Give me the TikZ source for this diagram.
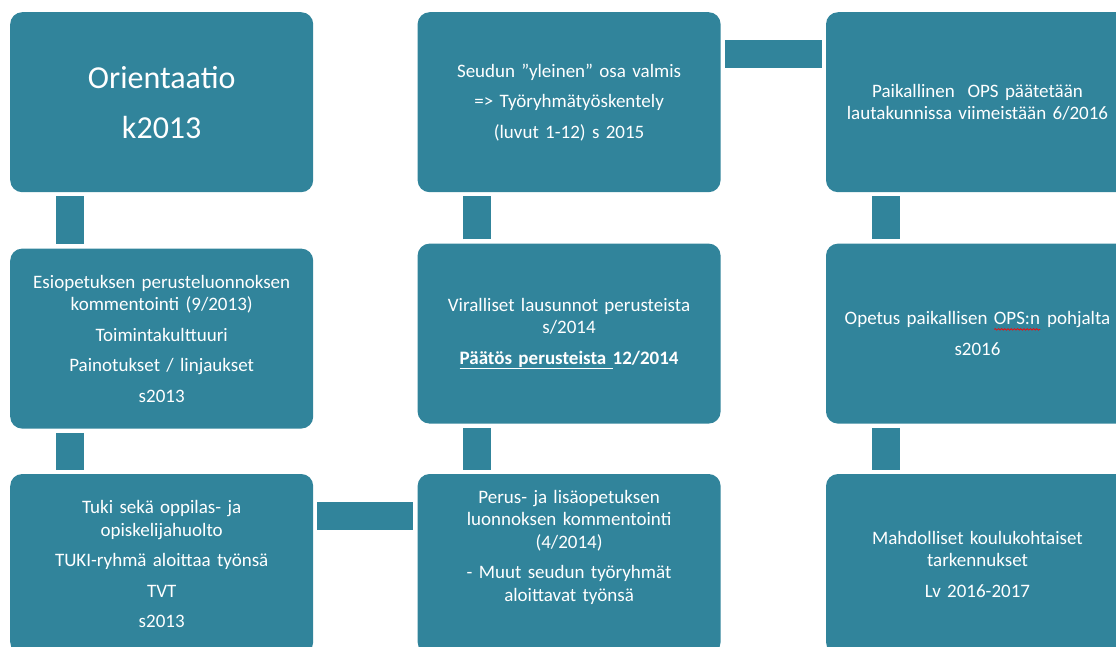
\documentclass[tikz,border=0pt]{standalone}
\usepackage{fontspec}
\setmainfont{Carlito}
\usepackage{xcolor}
\usetikzlibrary{positioning, decorations.pathmorphing}

\definecolor{tealbox}{HTML}{31849B}

% red spell-check wave under a word
\newsavebox\wavebox
\newcommand\spellwave[1]{\sbox\wavebox{#1}\rlap{\usebox\wavebox}%
  \tikz[baseline=0pt]\draw[red, fill=none, sharp corners, line width=0.7pt, decorate,
    decoration={snake, amplitude=0.8pt, segment length=3.2pt}]
    (0pt,-4.5pt) -- (\wd\wavebox,-4.5pt);}

\begin{document}
\begin{tikzpicture}[x=1pt, y=-1pt, node distance=104pt,
    phase/.style={fill=tealbox, rounded corners=12pt, minimum width=303pt,
      minimum height=180pt, text width=295pt, align=center, text=white,
      inner sep=0pt, font=\fontsize{19}{22.5}\selectfont},
    bar/.style={draw=tealbox, line width=28pt, shorten <=4pt, shorten >=4pt}]
        \useasboundingbox (0,0) rectangle (1116,646);
        \clip (0,0) rectangle (1116,646);

        % first column
        \node[phase, anchor=north west, font=\fontsize{32}{50}\selectfont] (orient) at (10,12) {Orientaatio\\k2013};
        \node[phase, below=56pt of orient] (esio) {Esiopetuksen perusteluonnoksen\\kommentointi (9/2013)\\[8pt]Toimintakulttuuri\\[8pt]Painotukset / linjaukset\\[8pt]s2013};
        \node[phase, below=45pt of esio] (tuki) {Tuki sekä oppilas- ja\\opiskelijahuolto\\[8pt]TUKI-ryhmä aloittaa työnsä\\[8pt]TVT\\[8pt]s2013};

        % second column
        \node[phase, right=of orient] (seutu) {Seudun ”yleinen” osa valmis\\[8pt]=> Työryhmätyöskentely\\[8pt](luvut 1-12) s 2015};
        \node[phase, below=51pt of seutu] (lausunto) {Viralliset lausunnot perusteista\\s/2014\\[8pt]\textbf{\underline{Päätös perusteista\ }12/2014}};
        \node[phase, below=50pt of lausunto] (perus) {Perus- ja lisäopetuksen\\luonnoksen kommentointi\\(4/2014)\\[8pt]- Muut seudun työryhmät\\aloittavat työnsä\\[14pt]~};

        % third column
        \node[phase, right=105pt of seutu] (paik) {Paikallinen\ \ OPS päätetään\\lautakunnissa viimeistään 6/2016};
        \node[phase, below=51pt of paik] (opetus) {Opetus paikallisen \spellwave{OPS:n} pohjalta\\[8pt]s2016};
        \node[phase, below=50pt of opetus] (mahd) {Mahdolliset koulukohtaiset\\tarkennukset\\[8pt]Lv 2016-2017};

        % links between the boxes
        \draw[bar] ([xshift=60pt]orient.south west) -- ([xshift=60pt]esio.north west);
        \draw[bar] ([xshift=60pt]esio.south west) -- ([xshift=60pt]tuki.north west);
        \draw[bar] ([yshift=-42pt]tuki.north east) -- ([yshift=-42pt]perus.north west);
        \draw[bar] ([xshift=60pt]perus.north west) -- ([xshift=60pt]lausunto.south west);
        \draw[bar] ([xshift=60pt]lausunto.north west) -- ([xshift=60pt]seutu.south west);
        \draw[bar] ([yshift=-42pt]seutu.north east) -- ([yshift=-42pt]paik.north west);
        \draw[bar] ([xshift=60pt]paik.south west) -- ([xshift=60pt]opetus.north west);
        \draw[bar] ([xshift=60pt]opetus.south west) -- ([xshift=60pt]mahd.north west);
\end{tikzpicture}
\end{document}
